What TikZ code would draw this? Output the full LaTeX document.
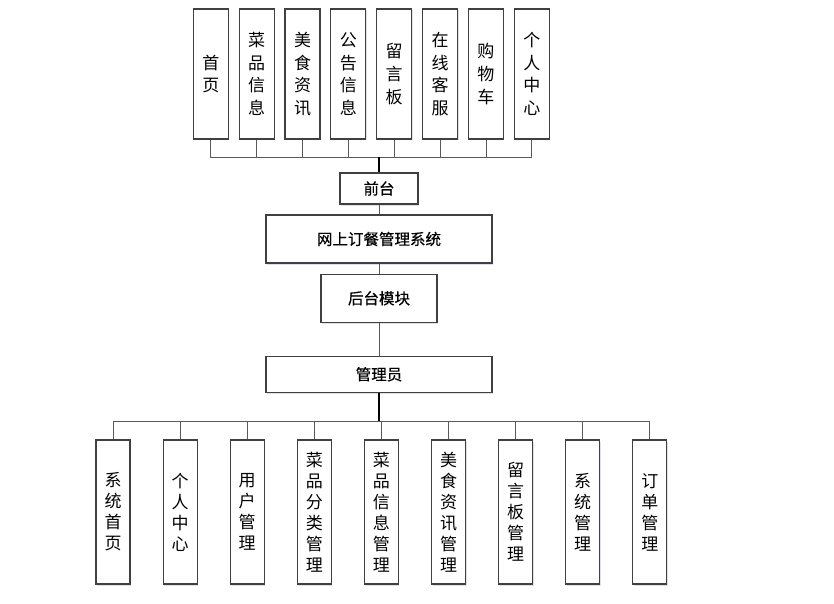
\documentclass[tikz,border=0pt]{standalone}
\usepackage{fontspec}
\setmainfont{Noto Sans CJK SC}
\usepackage{tikz}
\usetikzlibrary{positioning, shadows}

\begin{document}
\begin{tikzpicture}[x=1pt, y=-1pt, font=\fontsize{17}{22.7}\selectfont,
  box/.style={draw=black!75, line width=1.1pt, fill=white, inner sep=0pt, align=center,
    drop shadow={shadow xshift=1pt, shadow yshift=-1.5pt, fill=blue!40!black, opacity=0.12}},
  midbox/.style={box, font=\fontsize{15.5}{18}\selectfont\addfontfeature{FakeBold=0.6}},
  link/.style={draw=black!65, line width=0.9pt},
  trunk/.style={draw=black, line width=1.8pt}]
  \useasboundingbox (0,0) rectangle (834,604);
  % front-end pages
  \foreach \name [count=\i] in {首\\页, 菜\\品\\信\\息, 美\\食\\资\\讯, 公\\告\\信\\息,
      留\\言\\板, 在\\线\\客\\服, 购\\物\\车, 个\\人\\中\\心} {
    \node[box, minimum width=35, minimum height=130] (t\i) at ({210.8+(\i-1)*45.86},74) {\name};
  }
  % central column
  \node[midbox, minimum width=78, minimum height=31] (qt) at (379,188.5) {前台};
  \node[midbox, minimum width=226, minimum height=48] (sys) at (379,239) {网上订餐管理系统};
  \node[midbox, minimum width=116, minimum height=48.5] (ht) at (379,298.3) {后台模块};
  \node[midbox, minimum width=226, minimum height=36.5] (gly) at (379,374.3) {管理员};
  % admin functions
  \foreach \name [count=\i] in {系\\统\\首\\页, 个\\人\\中\\心, 用\\户\\管\\理,
      菜\\品\\分\\类\\管\\理, 菜\\品\\信\\息\\管\\理, 美\\食\\资\\讯\\管\\理,
      留\\言\\板\\管\\理, 系\\统\\管\\理, 订\\单\\管\\理} {
    \node[box, minimum width=34, minimum height=144, font=\fontsize{17}{21}\selectfont]
      (b\i) at ({113+(\i-1)*67.1},512) {\name};
  }
  % connectors
  \coordinate (tbus) at (379,157);
  \coordinate (bbus) at (379,421.5);
  \foreach \i in {1,...,8} \draw[link] (t\i.south) |- (tbus);
  \draw[trunk] (tbus) -- (qt.north);
  \draw[link] (qt.south) -- (sys.north);
  \draw[link] (sys.south) -- (ht.north);
  \draw[link] (ht.south) -- (gly.north);
  \draw[trunk] (gly.south) -- (bbus);
  \foreach \i in {1,...,9} \draw[link] (bbus) -| (b\i.north);
\end{tikzpicture}
\end{document}
